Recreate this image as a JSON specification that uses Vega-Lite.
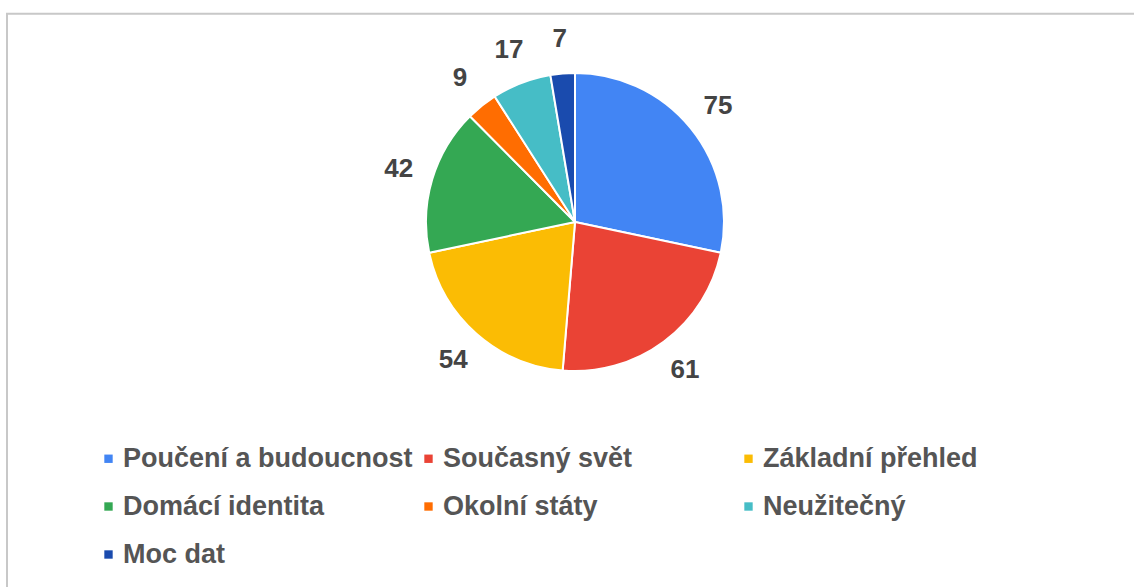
{
  "$schema": "https://vega.github.io/schema/vega-lite/v6.json",
  "autosize": {"type": "none"},
  "width": 1118,
  "height": 444,
  "padding": {"left": 16, "top": 0, "right": 0, "bottom": 143},
  "background": "white",
  "config": {
    "view": {"stroke": null},
    "font": "Liberation Sans"
  },
  "layer": [
    {
      "data": {"values": [{"frame": 1}]},
      "mark": {"type": "rect", "x": -9, "y": 13.7, "x2": 1300, "y2": 800, "fill": null, "stroke": "#c8c8c8", "strokeWidth": 2}
    },
    {
      "data": {
        "values": [
          {"category": "Poučení a budoucnost", "value": 75, "order": 1},
          {"category": "Současný svět", "value": 61, "order": 2},
          {"category": "Základní přehled", "value": 54, "order": 3},
          {"category": "Domácí identita", "value": 42, "order": 4},
          {"category": "Okolní státy", "value": 9, "order": 5},
          {"category": "Neužitečný", "value": 17, "order": 6},
          {"category": "Moc dat", "value": 7, "order": 7}
        ]
      },
      "encoding": {
        "theta": {"field": "value", "type": "quantitative", "stack": true},
        "order": {"field": "order", "type": "quantitative"}
      },
      "layer": [
        {
          "mark": {"type": "arc", "outerRadius": 149, "stroke": "white", "strokeWidth": 2},
          "encoding": {
            "color": {
              "field": "category",
              "type": "nominal",
              "sort": ["Poučení a budoucnost", "Současný svět", "Základní přehled", "Domácí identita", "Okolní státy", "Neužitečný", "Moc dat"],
              "scale": {
                "domain": ["Poučení a budoucnost", "Současný svět", "Základní přehled", "Domácí identita", "Okolní státy", "Neužitečný", "Moc dat"],
                "range": ["#4285F4", "#EA4335", "#FBBC04", "#34A853", "#FF6D01", "#46BDC6", "#1A4BAE"]
              },
              "legend": {
                "title": null,
                "orient": "none",
                "legendX": 79,
                "legendY": 445,
                "direction": "horizontal",
                "columns": 3,
                "gridAlign": "all",
                "columnPadding": 2,
                "rowPadding": 20,
                "symbolType": "square",
                "symbolSize": 70,
                "symbolStrokeWidth": 0,
                "labelFont": "Liberation Sans",
                "labelFontSize": 27,
                "labelFontWeight": "bold",
                "labelColor": "#555555",
                "labelOffset": 1,
                "labelLimit": 400
              }
            }
          }
        },
        {
          "mark": {"type": "text", "radius": 184, "font": "Liberation Sans", "fontSize": 26, "fontWeight": "bold", "fill": "#444444", "align": "center", "baseline": "middle"},
          "encoding": {
            "text": {"field": "value", "type": "quantitative"}
          }
        }
      ]
    }
  ]
}
